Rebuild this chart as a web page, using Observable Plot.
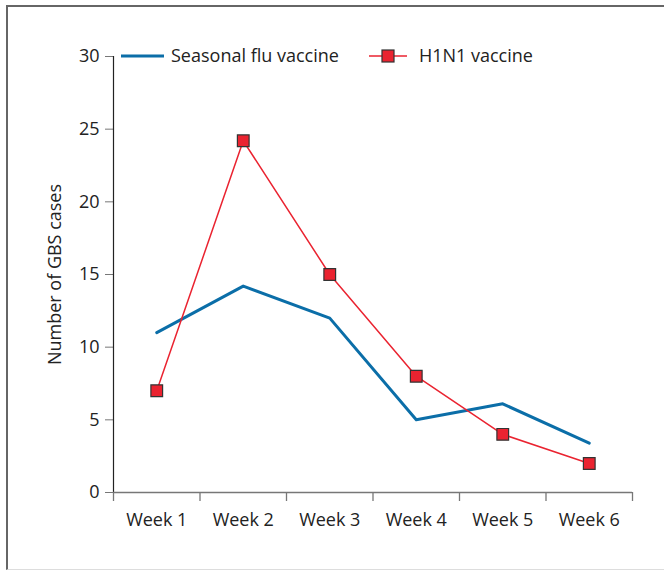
<!DOCTYPE html>
<html>
<head>
<meta charset="utf-8">
<script src="https://cdn.jsdelivr.net/npm/d3@7"></script>
<script src="https://cdn.jsdelivr.net/npm/@observablehq/plot@0.6"></script>
<style>
  html, body { margin: 0; padding: 0; background: #fff; }
  #wrap { position: relative; width: 664px; height: 571px; overflow: hidden; font-family: "Open Sans", sans-serif; }
  #frame { position: absolute; left: 6px; top: 5px; width: 700px; height: 565px;
           border-left: 2px solid #666; border-top: 2px solid #666; border-bottom: 1px solid #ddd; box-sizing: border-box; pointer-events: none; }
  #legend { position: absolute; top: 43px; left: 120px; font-size: 18px; color: #222; display: flex; align-items: center; }
  #legend .item { display: flex; align-items: center; }
  #legend svg { display: block; }
</style>
</head>
<body>
<div id="wrap">
  <div id="chart"></div>
  <div id="frame"></div>
  <div id="legend"></div>
</div>
<script>
const weeks = ["Week 1", "Week 2", "Week 3", "Week 4", "Week 5", "Week 6"];
const seasonal = [11.0, 14.2, 12.0, 5.0, 6.1, 3.4];
const h1n1 = [7, 24.2, 15, 8, 4, 2];
const yTicks = [0, 5, 10, 15, 20, 25, 30];
const seriesNames = ["Seasonal flu vaccine", "H1N1 vaccine"];

const blue = "#0b6ea8";
const red = "#ea2330";

const rows = (vals) => vals.map((v, i) => ({i: i + 0.5, week: weeks[i], v}));
const sRows = rows(seasonal);
const hRows = rows(h1n1);

const plot = Plot.plot({
  width: 664,
  height: 571,
  marginLeft: 113,
  marginRight: 32,
  marginTop: 56,
  marginBottom: 79,
  style: {fontFamily: "Open Sans, sans-serif", fontSize: "18px", color: "#222", background: "transparent"},
  x: {type: "linear", domain: [0, weeks.length]},
  y: {domain: [0, 30]},
  marks: [
    Plot.axisY({ticks: yTicks, tickSize: 8, tickPadding: 6, stroke: "#777", fontSize: 18, fill: "#222", label: null}),
    Plot.ruleX([0], {y1: 0, y2: 30, stroke: "#222", strokeWidth: 1.2}),
    Plot.axisX({ticks: d3.range(weeks.length + 1), tickSize: 9, tickFormat: () => "", stroke: "#777", strokeWidth: 1.3, label: null}),
    Plot.axisX({ticks: weeks.map((w, i) => i + 0.5), tickSize: 0, tickPadding: 21, tickFormat: (d) => weeks[Math.floor(d)], fontSize: 18, fill: "#222", label: null}),
    Plot.ruleY([0], {stroke: "#777", strokeWidth: 1.6}),
    Plot.text(["Number of GBS cases"], {frameAnchor: "left", textAnchor: "middle", rotate: -90, dx: -58, fontSize: 18, fill: "#222"}),
    Plot.line(sRows, {x: "i", y: "v", stroke: blue, strokeWidth: 3}),
    Plot.line(hRows, {x: "i", y: "v", stroke: red, strokeWidth: 1.5}),
    Plot.dot(hRows, {x: "i", y: "v", symbol: "square", r: 6.6, fill: red, stroke: "#333", strokeWidth: 1.2})
  ]
});
document.getElementById("chart").appendChild(plot);

const legend = document.getElementById("legend");
legend.innerHTML = `
  <div class="item"><svg width="44" height="24"><line x1="1" x2="44" y1="13" y2="13" stroke="${blue}" stroke-width="3"/></svg><span style="margin-left:7px">${seriesNames[0]}</span></div>
  <div class="item" style="margin-left:30px"><svg width="38" height="24"><line x1="0" x2="38" y1="13" y2="13" stroke="${red}" stroke-width="1.5"/><rect x="13" y="7" width="12" height="12" fill="${red}" stroke="#333" stroke-width="1.2"/></svg><span style="margin-left:12px">${seriesNames[1]}</span></div>`;
</script>
</body>
</html>
